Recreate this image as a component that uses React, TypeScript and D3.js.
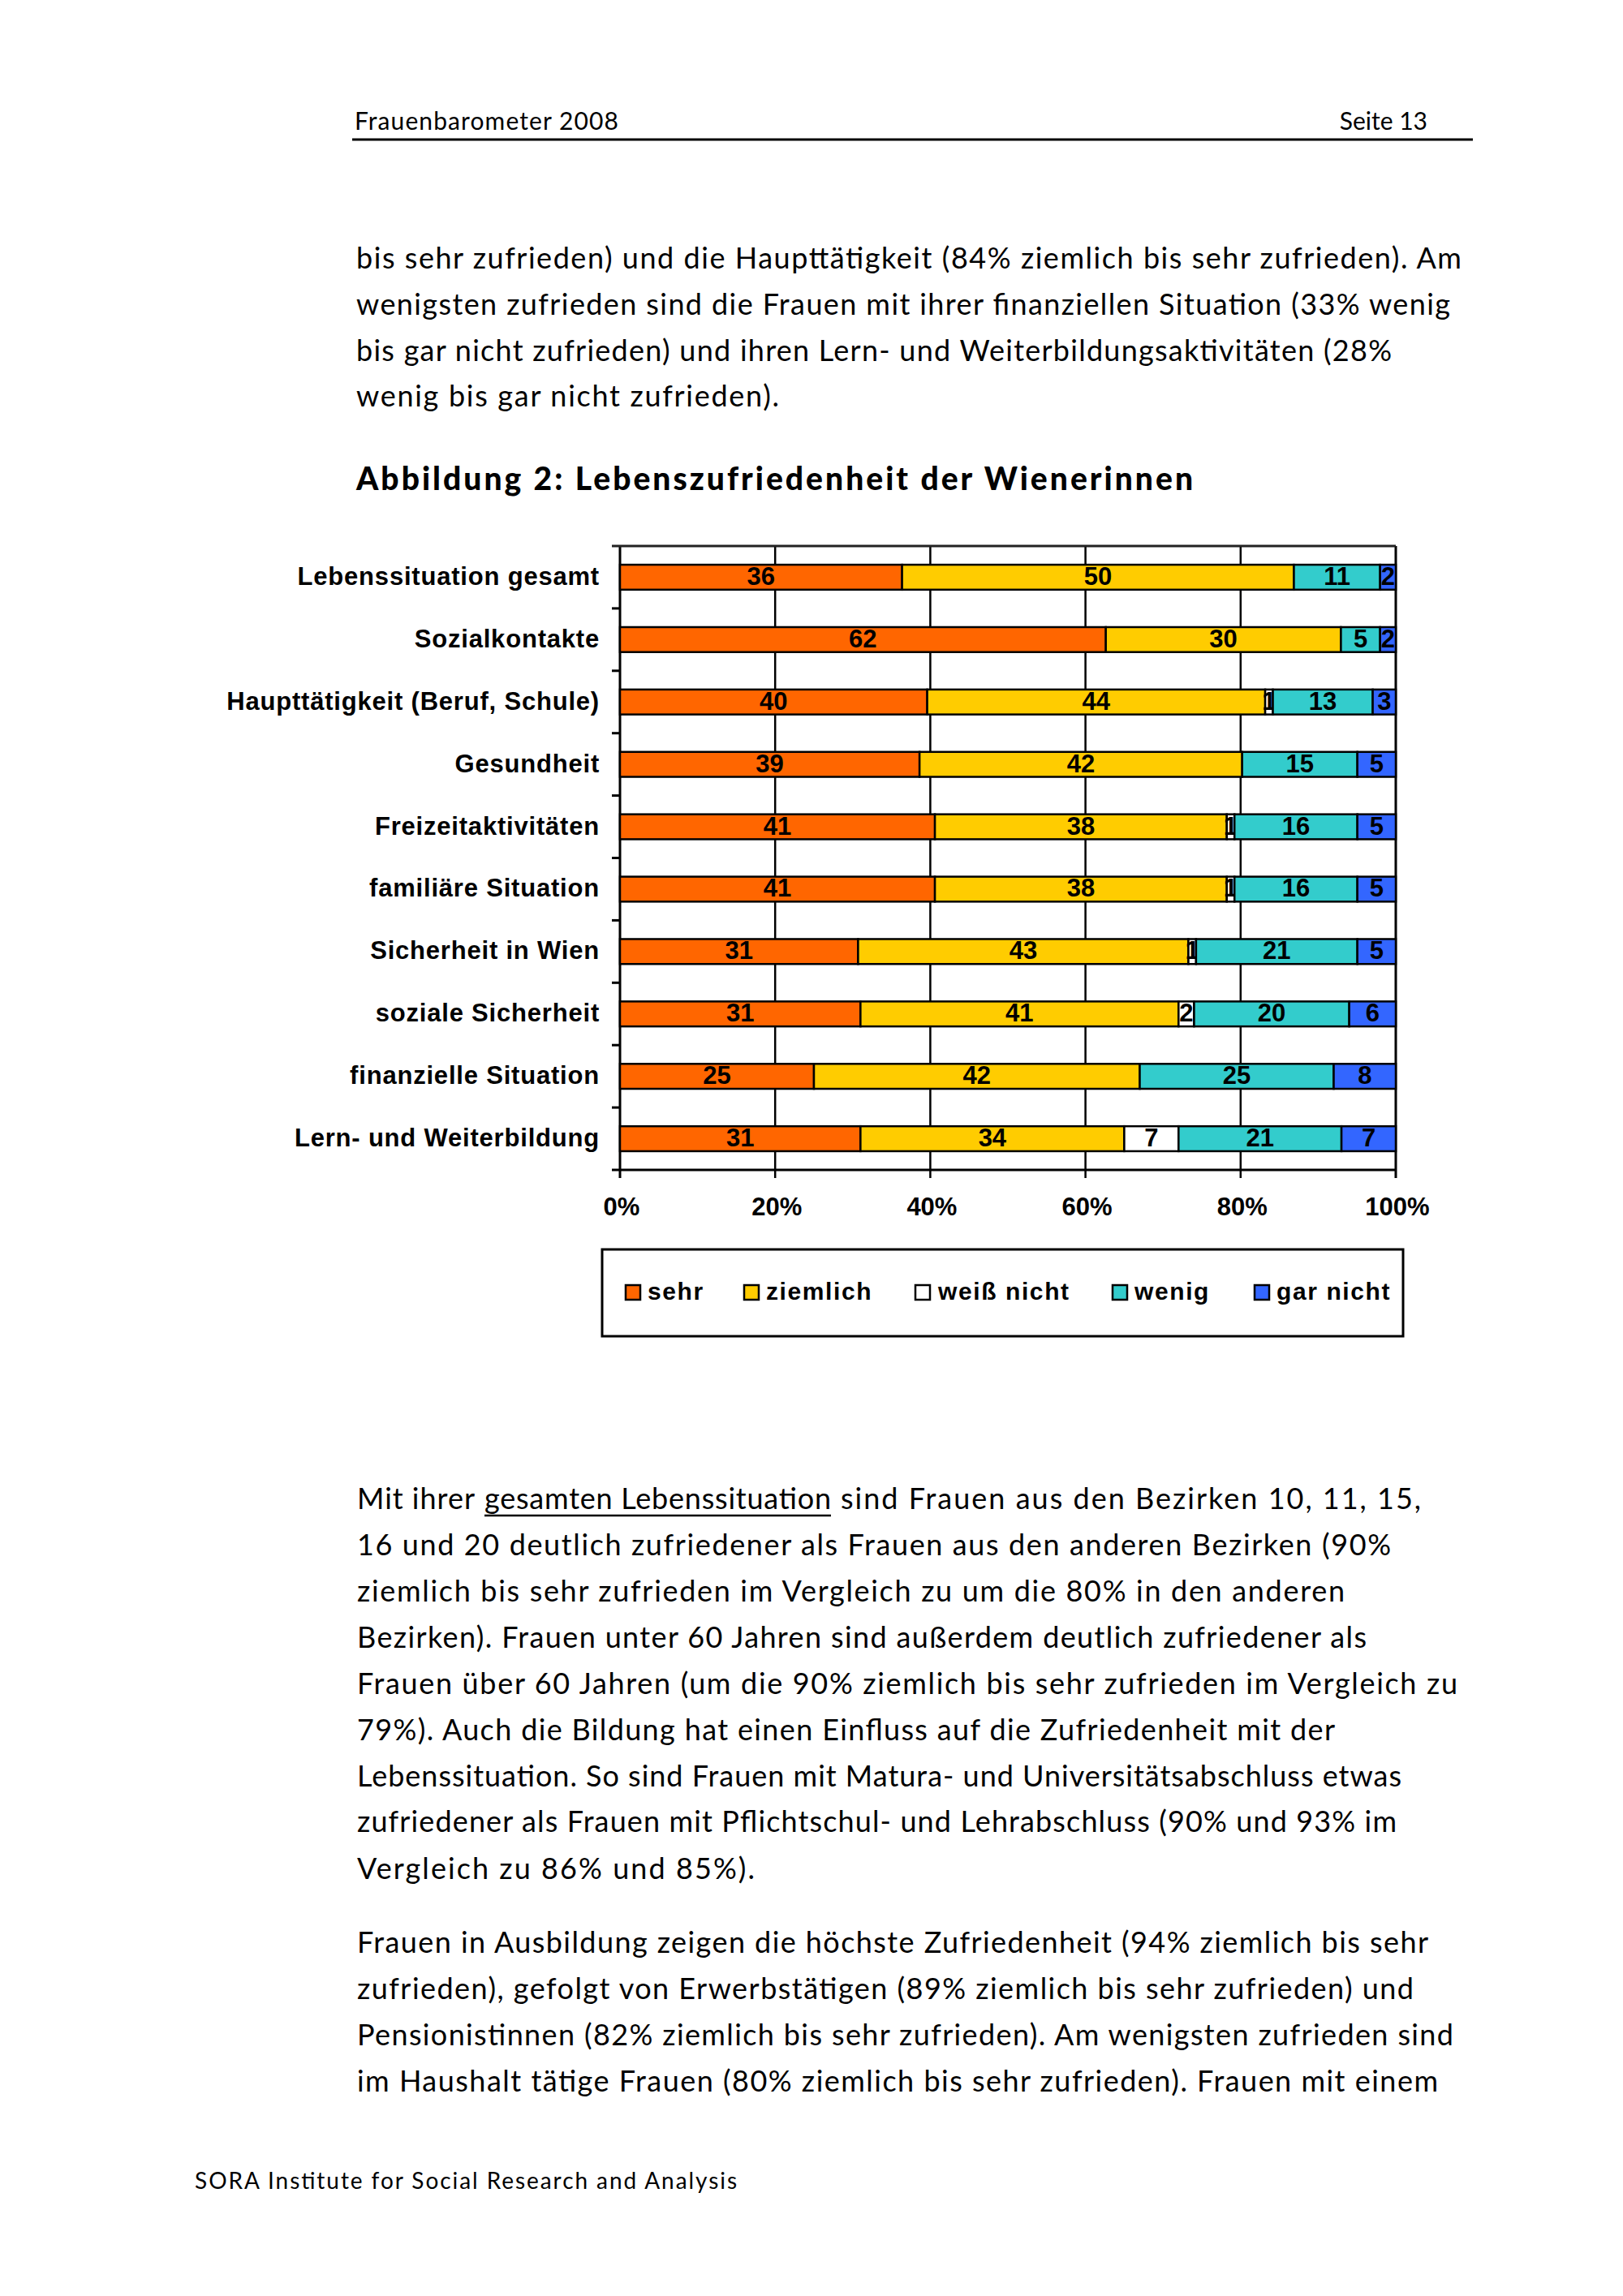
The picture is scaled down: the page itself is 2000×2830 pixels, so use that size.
import React from "react";
import * as d3 from "d3";

// ---------- DATA ----------
const categories = [
  "Lebenssituation gesamt",
  "Sozialkontakte",
  "Haupttätigkeit (Beruf, Schule)",
  "Gesundheit",
  "Freizeitaktivitäten",
  "familiäre Situation",
  "Sicherheit in Wien",
  "soziale Sicherheit",
  "finanzielle Situation",
  "Lern- und Weiterbildung",
];
const seriesNames = ["sehr", "ziemlich", "weiß nicht", "wenig", "gar nicht"];
const sehr = [36, 62, 40, 39, 41, 41, 31, 31, 25, 31];
const ziemlich = [50, 30, 44, 42, 38, 38, 43, 41, 42, 34];
const weissNicht = [0, 0, 1, 0, 1, 1, 1, 2, 0, 7];
const wenig = [11, 5, 13, 15, 16, 16, 21, 20, 25, 21];
const garNicht = [2, 2, 3, 5, 5, 5, 5, 6, 8, 7];
const seriesColors = ["#FF6600", "#FFCC00", "#FFFFFF", "#33CCCC", "#3366FF"];
const xTicks = [0, 0.2, 0.4, 0.6, 0.8, 1];

const headerLeft = "Frauenbarometer 2008";
const headerRight = "Seite 13";
const paragraph1 = [
  "bis sehr zufrieden) und die Haupttätigkeit (84% ziemlich bis sehr zufrieden). Am",
  "wenigsten zufrieden sind die Frauen mit ihrer finanziellen Situation (33% wenig",
  "bis gar nicht zufrieden) und ihren Lern- und Weiterbildungsaktivitäten (28%",
  "wenig bis gar nicht zufrieden).",
];
const figureTitle = "Abbildung 2: Lebenszufriedenheit der Wienerinnen";
const p2first = ["Mit ihrer", "gesamten Lebenssituation", "sind Frauen aus den Bezirken 10, 11, 15,"];
const paragraph2 = [
  "16 und 20 deutlich zufriedener als Frauen aus den anderen Bezirken (90%",
  "ziemlich bis sehr zufrieden im Vergleich zu um die 80% in den anderen",
  "Bezirken). Frauen unter 60 Jahren sind außerdem deutlich zufriedener als",
  "Frauen über 60 Jahren (um die 90% ziemlich bis sehr zufrieden im Vergleich zu",
  "79%). Auch die Bildung hat einen Einfluss auf die Zufriedenheit mit der",
  "Lebenssituation. So sind Frauen mit Matura- und Universitätsabschluss etwas",
  "zufriedener als Frauen mit Pflichtschul- und Lehrabschluss (90% und 93% im",
  "Vergleich zu 86% und 85%).",
];
const paragraph3 = [
  "Frauen in Ausbildung zeigen die höchste Zufriedenheit (94% ziemlich bis sehr",
  "zufrieden), gefolgt von Erwerbstätigen (89% ziemlich bis sehr zufrieden) und",
  "Pensionistinnen (82% ziemlich bis sehr zufrieden). Am wenigsten zufrieden sind",
  "im Haushalt tätige Frauen (80% ziemlich bis sehr zufrieden). Frauen mit einem",
];
const footerText = "SORA Institute for Social Research and Analysis";

// ---------- LAYOUT ----------
const W = 2000;
const H = 2830;
const BODY_FONT = "Lato, 'Noto Sans', sans-serif";
const CHART_FONT = "'Liberation Sans', Arial, sans-serif";
const TEXT_X = 439;
const p1Baselines = [331, 388, 445, 501];
const p1Widths = [1362, 1348, 1276, 521];
const p2Baselines = [1917, 1974, 2031, 2088, 2145, 2202, 2258, 2316];
const p2Widths = [1274, 1217, 1244, 1356, 1205, 1287, 1281, 490];
const p3Baselines = [2407, 2464, 2521, 2578];
const p3Widths = [1320, 1302, 1351, 1332];
const legendSwatchX = [771, 917, 1128, 1371, 1546];
const legendTextX = [798, 944, 1156, 1398, 1573];

const PL = 764, PR = 1720, PT = 673, PB = 1442;

export default function App() {
  const rows = categories.map((c, i) => ({
    cat: c,
    [seriesNames[0]]: sehr[i],
    [seriesNames[1]]: ziemlich[i],
    [seriesNames[2]]: weissNicht[i],
    [seriesNames[3]]: wenig[i],
    [seriesNames[4]]: garNicht[i],
  }));
  const stacked = d3.stack<any>().keys(seriesNames).offset(d3.stackOffsetExpand)(rows);
  const x = d3.scaleLinear().domain([0, 1]).range([PL, PR]);
  const y = d3.scaleBand<string>().domain(categories).range([PT, PB]).paddingInner(0.6).paddingOuter(0.3);
  const step = y.step();
  const bw = y.bandwidth();
  const boundaries = d3.range(categories.length + 1).map((i) => PT + i * step);

  const bodyText = (t: string, xx: number, yy: number, w: number, key: string) => (
    <text key={key} x={xx} y={yy} textLength={w} lengthAdjust="spacing"
      fontFamily={BODY_FONT} fontSize={36} fill="#000">{t}</text>
  );

  return (
    <svg width={W} height={H} viewBox={`0 0 ${W} ${H}`}
      style={{ position: "absolute", left: 0, top: 0, display: "block", background: "#fff" }}>
      <rect x={0} y={0} width={W} height={H} fill="#fff" />
      {/* Header */}
      <text x={437} y={160} fontFamily={BODY_FONT} fontSize={30} textLength={325} lengthAdjust="spacing">{headerLeft}</text>
      <text x={1759} y={160} fontFamily={BODY_FONT} fontSize={30} textAnchor="end">{headerRight}</text>
      <line x1={434} x2={1815} y1={172} y2={172} stroke="#000" strokeWidth={3} />

      {/* Paragraph 1 */}
      {paragraph1.map((t, i) => bodyText(t, TEXT_X, p1Baselines[i], p1Widths[i], "p1" + i))}

      {/* Figure title */}
      <text x={439} y={604} fontFamily={BODY_FONT} fontWeight={900} fontSize={39}
        textLength={1031} lengthAdjust="spacing">{figureTitle}</text>

      {/* Chart */}
      <g fontFamily={CHART_FONT}>
        {/* gridlines and border */}
        {xTicks.map((t) => (
          <line key={"g" + t} x1={x(t)} x2={x(t)} y1={PT} y2={PB + 10} stroke="#000" strokeWidth={t === 0 || t === 1 ? 3 : 2.5} />
        ))}
        {boundaries.map((b, i) => (
          <line key={"b" + i} x1={754} x2={i === 0 || i === boundaries.length - 1 ? PR : PL} y1={b} y2={b}
            stroke={i === 0 ? "#222" : "#000"} strokeWidth={3} />
        ))}
        {/* category labels */}
        {categories.map((c) => (
          <text key={"c" + c} x={739} y={(y(c) as number) + bw / 2 + 9.5} textAnchor="end"
            fontWeight="bold" fontSize={31} letterSpacing={0.8}>{c}</text>
        ))}
        {/* bars */}
        {stacked.map((s, si) => (
          <g key={"s" + si}>
            {s.map((d, di) => {
              const x0 = x(d[0]);
              const x1 = x(d[1]);
              if (x1 - x0 <= 0) return null;
              return (
                <rect key={"r" + di} x={x0} y={y(categories[di])} width={x1 - x0} height={bw}
                  fill={seriesColors[si]} stroke="#000" strokeWidth={2.5} />
              );
            })}
            {s.map((d, di) => {
              const v = (d.data as any)[seriesNames[si]];
              if (!v) return null;
              return (
                <text key={"v" + di} x={(x(d[0]) + x(d[1])) / 2} y={(y(categories[di]) as number) + bw / 2 + 9.5}
                  textAnchor="middle" fontWeight="bold" fontSize={31} fill="#000">{v}</text>
              );
            })}
          </g>
        ))}
        {/* x tick labels */}
        {xTicks.map((t) => (
          <text key={"t" + t} x={x(t) + 2} y={1498} textAnchor="middle" fontWeight="bold" fontSize={31}>
            {d3.format(".0%")(t)}
          </text>
        ))}
        {/* legend */}
        <rect x={742} y={1540} width={987} height={107} fill="#fff" stroke="#000" strokeWidth={3} />
        {seriesNames.map((n, i) => (
          <g key={"l" + n}>
            <rect x={legendSwatchX[i]} y={1584} width={18} height={18} fill={seriesColors[i]} stroke="#000" strokeWidth={2.5} />
            <text x={legendTextX[i]} y={1602} fontWeight="bold" fontSize={30} letterSpacing={1.6}>{n}</text>
          </g>
        ))}
      </g>

      {/* Paragraph 2 */}
      <text x={440} y={1860} textLength={145} lengthAdjust="spacing" fontFamily={BODY_FONT} fontSize={36}>{p2first[0]}</text>
      <text x={597} y={1860} textLength={427} lengthAdjust="spacing" fontFamily={BODY_FONT} fontSize={36}>{p2first[1]}</text>
      <line x1={597} x2={1024} y1={1868} y2={1868} stroke="#000" strokeWidth={2.5} />
      <text x={1036} y={1860} textLength={715} lengthAdjust="spacing" fontFamily={BODY_FONT} fontSize={36}>{p2first[2]}</text>
      {paragraph2.map((t, i) => bodyText(t, 440, p2Baselines[i], p2Widths[i], "p2" + i))}

      {/* Paragraph 3 */}
      {paragraph3.map((t, i) => bodyText(t, 440, p3Baselines[i], p3Widths[i], "p3" + i))}

      {/* Footer */}
      <text x={240} y={2698} fontFamily={BODY_FONT} fontSize={28} textLength={668} lengthAdjust="spacing">{footerText}</text>
    </svg>
  );
}
